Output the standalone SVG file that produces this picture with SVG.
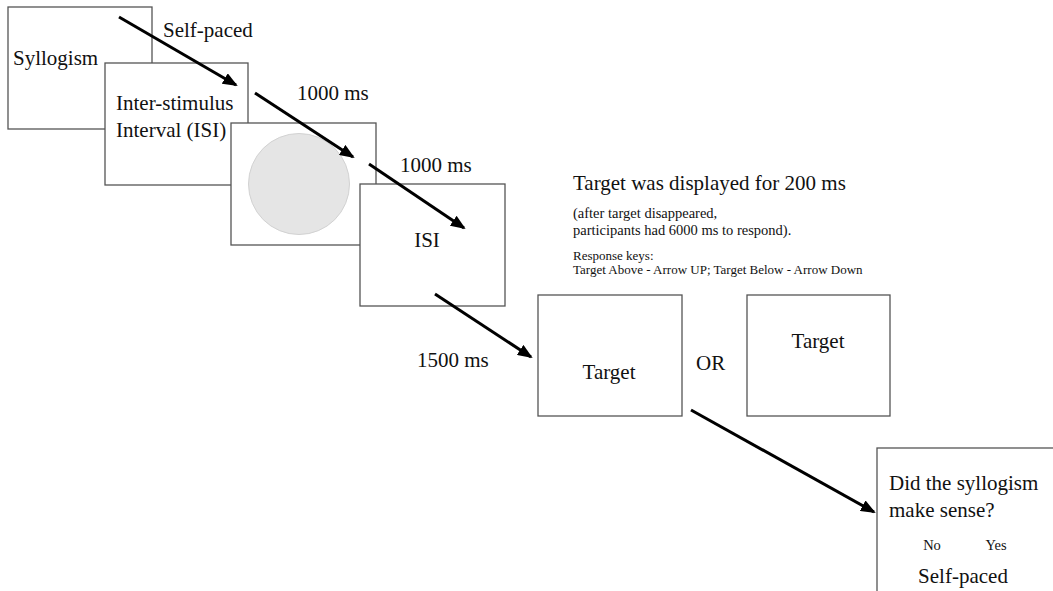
<svg xmlns="http://www.w3.org/2000/svg" width="1053" height="591" viewBox="0 0 1053 591">
<style>
.box{fill:#fff;stroke:#555;stroke-width:1.3}
.t{font-family:"Liberation Serif","Tinos","Times New Roman","DejaVu Serif","Noto Serif",serif;fill:#111}
.l{font-size:21px}
.m{font-size:14.5px}
.s{font-size:13px}
.c{text-anchor:middle}
.arr{stroke:#000;stroke-width:3;fill:none;marker-end:url(#ah)}
</style>
<defs>
<marker id="ah" markerUnits="userSpaceOnUse" markerWidth="16" markerHeight="12" refX="13" refY="6" orient="auto">
<path d="M0,0 L15,6 L0,12 z" fill="#000"/>
</marker>
</defs>
<rect width="1053" height="591" fill="#fff"/>
<g id="n1"><rect class="box" x="8" y="7" width="144" height="122"/><text class="t l" x="13" y="65">Syllogism</text></g>
<g id="n2"><rect class="box" x="105" y="63" width="143" height="122"/><text class="t l" x="116" y="110">Inter-stimulus</text><text class="t l" x="116" y="137">Interval (ISI)</text></g>
<g id="n3"><rect class="box" x="231" y="123" width="145" height="122"/><circle cx="299" cy="184" r="50.5" fill="#e5e5e5" stroke="#d2d2d2" stroke-width="1"/></g>
<g id="n4"><rect class="box" x="360" y="184" width="145" height="122"/><text class="t l c" x="427" y="247">ISI</text></g>
<g id="n5"><rect class="box" x="538" y="295" width="144" height="121"/><text class="t l c" x="609" y="379">Target</text></g>
<g id="n6"><rect class="box" x="747" y="295" width="143" height="121"/><text class="t l c" x="818" y="348">Target</text></g>
<g id="n7"><rect class="box" x="877" y="448" width="200" height="160"/><text class="t l" x="889" y="490">Did the syllogism</text><text class="t l" x="889" y="517">make sense?</text><text class="t m c" x="932" y="550">No</text><text class="t m c" x="996" y="550">Yes</text><text class="t l c" x="963" y="583">Self-paced</text></g>
<g id="labels">
<text class="t l" x="163" y="37">Self-paced</text>
<text class="t l" x="297" y="100">1000 ms</text>
<text class="t l" x="400" y="172">1000 ms</text>
<text class="t l" x="417" y="367">1500 ms</text>
<text class="t l" x="696" y="370">OR</text>
<text class="t l" x="573" y="190">Target was displayed for 200 ms</text>
<text class="t m" x="573" y="218">(after target disappeared,</text>
<text class="t m" x="573" y="235">participants had 6000 ms to respond).</text>
<text class="t s" x="573" y="260">Response keys:</text>
<text class="t s" x="573" y="274">Target Above - Arrow UP; Target Below - Arrow Down</text>
</g>
<g id="connectors">
<line class="arr" x1="119" y1="17" x2="236" y2="85"/>
<line class="arr" x1="255" y1="93" x2="353" y2="157"/>
<line class="arr" x1="369" y1="164" x2="464" y2="228"/>
<line class="arr" x1="435" y1="294" x2="531" y2="357"/>
<line class="arr" x1="691" y1="410" x2="874" y2="512"/>
</g>
</svg>
